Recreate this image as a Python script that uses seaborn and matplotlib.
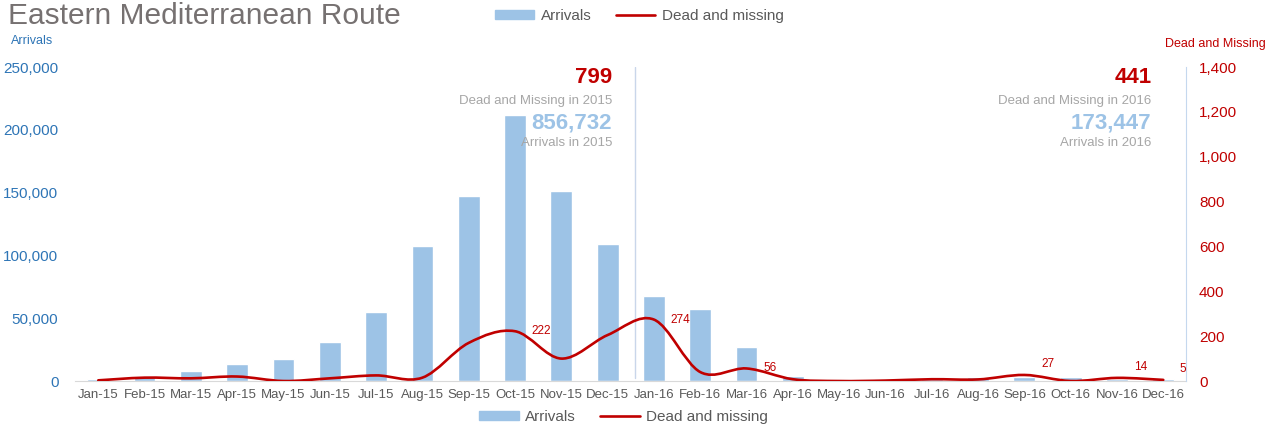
import matplotlib

matplotlib.use("Agg")

import matplotlib.pyplot as plt
import numpy as np
import pandas as pd
import seaborn as sns
from matplotlib.lines import Line2D
from matplotlib.patches import Patch, PathPatch
from matplotlib.path import Path

MONTHS = [
    "Jan-15", "Feb-15", "Mar-15", "Apr-15", "May-15", "Jun-15",
    "Jul-15", "Aug-15", "Sep-15", "Oct-15", "Nov-15", "Dec-15",
    "Jan-16", "Feb-16", "Mar-16", "Apr-16", "May-16", "Jun-16",
    "Jul-16", "Aug-16", "Sep-16", "Oct-16", "Nov-16", "Dec-16",
]
ARRIVALS = [
    1703, 2873, 7874, 13556, 17889, 31318, 54899, 107843, 147123, 211663, 151249, 108742,
    67415, 57066, 26971, 3650, 1721, 1554, 1920, 3447, 3080, 2970, 1991, 1662,
]
DEAD = [
    3, 15, 12, 20, 0, 12, 25, 15, 170, 222, 100, 205,
    274, 40, 56, 8, 0, 2, 8, 7, 27, 0, 14, 5,
]
LABELLED = [9, 12, 14, 20, 22, 23]
TOTALS = {"2015": ("799", "856,732"), "2016": ("441", "173,447")}

BAR = "#9DC3E6"
RED = "#C00000"
BLUE = "#2E75B6"
GREY = "#595959"
LIGHT = "#A6A6A6"


def smooth_path(xs, ys):
    # excel-style smoothed line: cubic bezier through every point
    p = np.column_stack([xs, ys]).astype(float)
    ext = np.vstack([p[0], p, p[-1]])
    verts = [p[0]]
    codes = [Path.MOVETO]
    for i in range(len(p) - 1):
        p0, p1, p2, p3 = ext[i], ext[i + 1], ext[i + 2], ext[i + 3]
        verts += [p1 + (p2 - p0) / 6, p2 - (p3 - p1) / 6, p2]
        codes += [Path.CURVE4] * 3
    return Path(verts, codes)


sns.set_style("white")
plt.rcParams["font.family"] = ["Liberation Sans", "DejaVu Sans"]

fig = plt.figure(figsize=(12.73, 4.26), dpi=100)
ax = fig.add_axes([0.059, 0.1056, 0.873, 0.737])

df = pd.DataFrame({"month": MONTHS, "arrivals": ARRIVALS})
sns.barplot(data=df, x="month", y="arrivals", color=BAR, saturation=1,
            width=0.47, ax=ax)
ax.set_ylim(0, 250000)
ax.set_yticks(np.arange(0, 250001, 50000))
ax.set_yticklabels([f"{v:,}" for v in range(0, 250001, 50000)])
ax.set_xlabel("")
ax.set_ylabel("")
ax.tick_params(axis="y", colors=BLUE, labelsize=11, length=0, pad=12)
ax.tick_params(axis="x", colors=GREY, labelsize=9.5, length=0, pad=6)
for s in ("left", "top", "right"):
    ax.spines[s].set_visible(False)
ax.spines["bottom"].set_color("#D9D9D9")

ax2 = ax.twinx()
ax2.set_ylim(0, 1400)
ax2.set_yticks(np.arange(0, 1401, 200))
ax2.set_yticklabels([f"{v:,}" for v in range(0, 1401, 200)])
ax2.tick_params(axis="y", colors=RED, labelsize=11, length=0, pad=9)
for s in ("left", "top", "bottom"):
    ax2.spines[s].set_visible(False)
ax2.spines["right"].set_color("#C5D8EE")
ax2.add_patch(PathPatch(smooth_path(range(len(DEAD)), DEAD), fill=False,
                        edgecolor=RED, lw=1.9, capstyle="round"))
for i in LABELLED:
    dy = 0 if DEAD[i] > 40 else 8
    ax2.annotate(str(DEAD[i]), (i, DEAD[i]), textcoords="offset points",
                 xytext=(12, dy), ha="left", va="center", fontsize=8.5, color=RED)

# divider between the two years
ax.axvline(11.6, ymin=0.01, ymax=1.0, color="#C9D6EA", lw=1)

for xr, year in ((0.4833, "2015"), (0.9685, "2016")):
    dead, arr = TOTALS[year]
    ax.text(xr, 0.968, dead, transform=ax.transAxes, ha="right", va="center",
            fontsize=16, fontweight="bold", color=RED)
    ax.text(xr, 0.892, f"Dead and Missing in {year}", transform=ax.transAxes,
            ha="right", va="center", fontsize=9.5, color=LIGHT)
    ax.text(xr, 0.822, arr, transform=ax.transAxes, ha="right", va="center",
            fontsize=16, fontweight="bold", color=BAR)
    ax.text(xr, 0.758, f"Arrivals in {year}", transform=ax.transAxes,
            ha="right", va="center", fontsize=9.5, color=LIGHT)

fig.text(0.006, 0.944, "Eastern Mediterranean Route", fontsize=21.5,
         color="#767171", va="baseline")
fig.text(0.009, 0.904, "Arrivals", fontsize=9, color=BLUE, va="center")
fig.text(0.994, 0.897, "Dead and Missing", fontsize=9, color=RED,
         va="center", ha="right")

handles = [Patch(color=BAR, label="Arrivals"),
           Line2D([], [], color=RED, lw=1.9, label="Dead and missing")]
for x, y in ((0.502, 0.962), (0.490, 0.021)):
    fig.legend(handles=handles, loc="center", bbox_to_anchor=(x, y), ncol=2,
               frameon=False, fontsize=11, handlelength=2.6, handletextpad=0.4,
               columnspacing=1.6, labelcolor=GREY, handleheight=0.5)

fig.savefig("out.png", dpi=100)
